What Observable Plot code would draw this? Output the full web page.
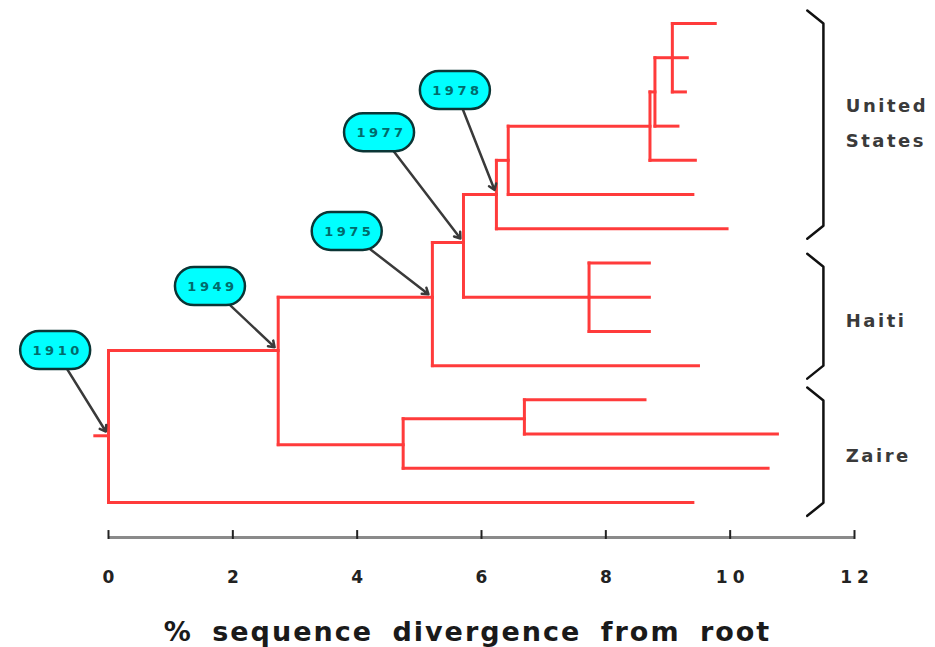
<!DOCTYPE html>
<html>
<head>
<meta charset="utf-8">
<script src="https://cdn.jsdelivr.net/npm/d3@7"></script>
<script src="https://cdn.jsdelivr.net/npm/@observablehq/plot@0.6"></script>
<style>
  html, body { margin: 0; padding: 0; background: #fff; }
</style>
</head>
<body>
<div id="chart"></div>
<script>
// ---- Tree data (divergence in %, row = vertical order of tips) ----
const nodeId     = ["stem","root","ND","L14","NC","NZ","NZ2","L11","L12","L13","NB","L10","NA","NH","L7","L8","L9","N0","L6","N1","L5","N2","L4","N3","L3","L0","L1","L2"];
const nodeParent = [null,"stem","root","root","ND","ND","NZ","NZ2","NZ2","NZ","NC","NC","NB","NB","NH","NH","NH","NA","NA","N0","N0","N1","N1","N2","N2","N3","N3","N3"];
const nodeDiv    = [-0.22,0,2.73,9.40,5.21,4.74,6.69,8.63,10.76,10.61,5.71,9.49,6.24,7.73,8.70,8.70,8.70,6.43,9.95,8.71,9.40,8.79,9.44,9.07,9.16,9.76,9.31,9.28];
const nodeRow    = [12.05,12.05,9.56,14,8,12.31,11.55,11,12,13,6.4,10,5,8,7,8,9,4,6,3,5,2,4,1,3,0,1,2];

// ---- Dated node labels ----
const labelYear   = ["1910","1949","1975","1977","1978"];
const labelNode   = ["root","ND","NC","NB","NA"];
const labelBoxDiv = [-0.85,1.64,3.84,4.36,5.58];
const labelBoxRow = [9.56,7.69,6.08,3.19,1.96];

// ---- Geographic groups (row extents and label row) ----
const groupName     = ["United\nStates","Haiti","Zaire"];
const groupTop      = [-0.38,6.73,10.64];
const groupBottom   = [6.29,10.38,14.39];
const groupLabelRow = [2.76,8.54,12.48];

// ---- Axis ----
const tickValues = [0,2,4,6,8,10,12];
const axisTitle  = "% sequence divergence from root";

// ---- Build tables ----
const nodes = nodeId.map((id,i)=>({id, parent:nodeParent[i], x:nodeDiv[i], row:nodeRow[i]}));
const byId = new Map(nodes.map(n=>[n.id,n]));
const horiz = nodes.filter(n=>n.parent).map(n=>({x1:byId.get(n.parent).x, x2:n.x, y1:n.row, y2:n.row}));
const vert = [];
for (const n of nodes) {
  const kids = nodes.filter(c=>c.parent===n.id);
  if (kids.length>1) {
    const rows = kids.map(c=>c.row);
    vert.push({x1:n.x, x2:n.x, y1:d3.min(rows), y2:d3.max(rows)});
  }
}
const segs = horiz.concat(vert);

const X0 = 108, X1 = 854, Y0 = 23, Y1 = 502;
const kx = (X1-X0)/12, ky = (Y1-Y0)/14;
const halfW = 35/kx, halfH = 19/ky;

const labels = labelYear.map((y,i)=>{
  const n = byId.get(labelNode[i]);
  return {year:y, bx:labelBoxDiv[i], by:labelBoxRow[i], tx:n.x, ty:n.row};
});

const hook = 0.38, bxOuter = 11.24, bxInner = 11.5;
const bracketPts = [];
groupName.forEach((g,i)=>{
  const t = groupTop[i], b = groupBottom[i];
  bracketPts.push({g, x:bxOuter, y:t},{g, x:bxInner, y:t+hook},{g, x:bxInner, y:b-hook},{g, x:bxOuter, y:b});
});
const groups = groupName.map((g,i)=>({name:g, y:groupLabelRow[i]}));

const axisRow = 15.02;

const chart = Plot.plot({
  width: 935,
  height: 647,
  marginLeft: X0, marginRight: 935-X1, marginTop: Y0, marginBottom: 647-Y1,
  x: {domain:[0,12], range:[X0,X1], axis:null},
  y: {domain:[0,14], range:[Y0,Y1], axis:null},
  style: {background:"#fff"},
  marks: [
    // tree
    Plot.link(segs, {x1:"x1", y1:"y1", x2:"x2", y2:"y2", stroke:"#ff3b3b", strokeWidth:3, strokeLinecap:"square"}),
    // arrows
    Plot.arrow(labels, {x1:"bx", y1:"by", x2:"tx", y2:"ty", stroke:"#3a3a3a", strokeWidth:2.5, headLength:4, headAngle:70, insetEnd:5}),
    // label boxes
    Plot.rect(labels, {x1:d=>d.bx-halfW, x2:d=>d.bx+halfW, y1:d=>d.by-halfH, y2:d=>d.by+halfH, fill:"#00ffff", stroke:"#0b3535", strokeWidth:2.5, rx:19}),
    Plot.text(labels, {x:"bx", y:"by", text:"year", fill:"#006b6b", fontSize:13, fontWeight:"bold", fontFamily:"DejaVu Sans", dx:2}),
    // brackets
    Plot.line(bracketPts, {x:"x", y:"y", z:"g", stroke:"#111", strokeWidth:2.5}),
    Plot.text(groups, {x:11.86, y:"y", text:"name", textAnchor:"start", fill:"#3a3a3a", fontSize:18, fontWeight:"bold", fontFamily:"DejaVu Sans", lineHeight:1.94}),
    // axis
    Plot.ruleY([axisRow], {x1:0, x2:12, stroke:"#8a8a8a", strokeWidth:3}),
    Plot.ruleX(tickValues, {x:d=>d, y1:axisRow-0.2, y2:axisRow+0.06, stroke:"#222", strokeWidth:2}),
    Plot.text(tickValues, {x:d=>d, y:16.2, text:d=>String(d), fill:"#222", fontSize:17, fontWeight:"bold", fontFamily:"DejaVu Sans", dx:2.5}),
    Plot.text([axisTitle], {x:6, y:17.8, text:d=>d, fill:"#1a1a1a", fontSize:27, fontWeight:"bold", fontFamily:"DejaVu Sans", dx:-14})
  ]
});
document.getElementById("chart").appendChild(chart);
const svg = d3.select(chart);
svg.selectAll('g[font-size="13"] text').style("letter-spacing","3.5px");
svg.selectAll('g[font-size="18"] text').style("letter-spacing","2.5px");
svg.selectAll('g[font-size="17"] text').style("letter-spacing","5px");
svg.selectAll('g[font-size="27"] text').style("letter-spacing","2px").style("word-spacing","8px");
</script>
</body>
</html>
